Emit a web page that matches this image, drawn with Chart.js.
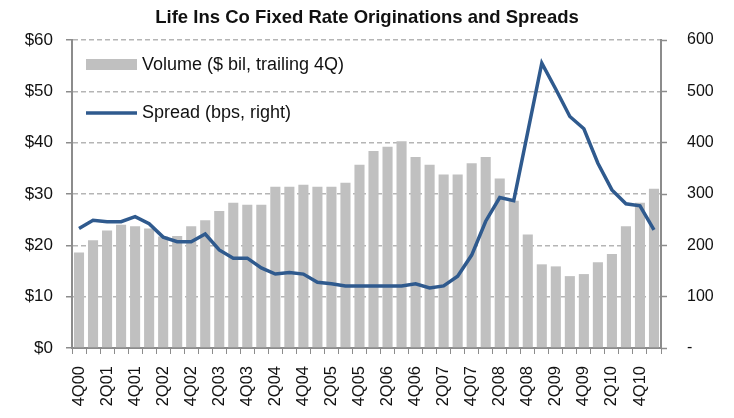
<!DOCTYPE html>
<html>
<head>
<meta charset="utf-8">
<script src="https://cdn.jsdelivr.net/npm/chart.js@4/dist/chart.umd.min.js"></script>
<style>
    html, body { margin: 0; padding: 0; background: #fff; }
    #grafico { display: block; }
</style>
</head>
<body>
<canvas id="grafico" width="734" height="418"></canvas>
<script>
// Datos
const trimestres = ['4Q00', '1Q01', '2Q01', '3Q01', '4Q01', '1Q02', '2Q02', '3Q02', '4Q02',
    '1Q03', '2Q03', '3Q03', '4Q03', '1Q04', '2Q04', '3Q04', '4Q04', '1Q05', '2Q05', '3Q05', '4Q05',
    '1Q06', '2Q06', '3Q06', '4Q06', '1Q07', '2Q07', '3Q07', '4Q07', '1Q08', '2Q08', '3Q08', '4Q08',
    '1Q09', '2Q09', '3Q09', '4Q09', '1Q10', '2Q10', '3Q10', '4Q10', '1Q11'];

const volumen = [18.6, 21.0, 22.9, 24.0, 23.7, 23.3, 21.7, 21.8, 23.7,
    24.9, 26.7, 28.3, 27.9, 27.9, 31.4, 31.4, 31.8, 31.4, 31.4, 32.2, 35.7,
    38.4, 39.2, 40.3, 37.2, 35.7, 33.8, 33.8, 36.0, 37.2, 33.0, 28.7, 22.1,
    16.3, 15.9, 14.0, 14.4, 16.7, 18.3, 23.7, 28.3, 31.0];

const spread = [233, 249, 246, 246, 256, 242, 216, 207, 207,
    222, 191, 175, 175, 156, 144, 147, 144, 128, 125, 121, 121,
    121, 121, 121, 125, 117, 121, 140, 181, 247, 293, 287, 421,
    555, 504, 451, 427, 360, 308, 281, 277, 230];

const etiquetaVolumen = 'Volume ($ bil, trailing 4Q)';
const etiquetaSpread = 'Spread (bps, right)';
const titulo = 'Life Ins Co Fixed Rate Originations and Spreads';

const fuente = "'Liberation Sans', Arial, sans-serif";
const colorEje = '#8c8c8c';

// Leyenda dentro del área del gráfico, arriba a la izquierda
const leyendaInterna = {
    id: 'leyendaInterna',
    afterDatasetsDraw(chart) {
        const ctx = chart.ctx;
        const barras = chart.data.datasets[0];
        const linea = chart.data.datasets[1];
        const x0 = chart.chartArea.left + 14;
        ctx.save();
        ctx.fillStyle = barras.backgroundColor;
        ctx.fillRect(x0, 59, 51, 11);
        ctx.strokeStyle = linea.borderColor;
        ctx.lineWidth = linea.borderWidth;
        ctx.beginPath();
        ctx.moveTo(x0, 113);
        ctx.lineTo(x0 + 51, 113);
        ctx.stroke();
        ctx.fillStyle = '#111';
        ctx.font = '18px ' + fuente;
        ctx.textBaseline = 'middle';
        ctx.fillText(barras.label, x0 + 56, 65);
        ctx.fillText(linea.label, x0 + 56, 113);
        ctx.restore();
    }
};

const ctx = document.getElementById('grafico').getContext('2d');
new Chart(ctx, {
    type: 'bar',
    data: {
        labels: trimestres,
        datasets: [{
            type: 'bar',
            label: etiquetaVolumen,
            data: volumen,
            backgroundColor: '#c0c0c0',
            barPercentage: 0.72,
            categoryPercentage: 1.0,
            yAxisID: 'y',
            order: 1
        }, {
            type: 'line',
            label: etiquetaSpread,
            data: spread,
            borderColor: '#2f5a8e',
            borderWidth: 3.5,
            pointRadius: 0,
            tension: 0,
            fill: false,
            yAxisID: 'y1',
            order: 0
        }]
    },
    options: {
        responsive: false,
        animation: false,
        layout: { padding: 0 },
        plugins: {
            legend: { display: false },
            tooltip: { enabled: false },
            title: {
                display: true,
                text: titulo,
                color: '#111',
                font: { family: fuente, size: 18.5, weight: 'bold', lineHeight: 1.2 },
                padding: { top: 7, bottom: 10.8 }
            }
        },
        scales: {
            x: {
                grid: { display: true, drawOnChartArea: false, drawTicks: true, tickLength: 6, color: colorEje, tickColor: colorEje, offset: true },
                border: { display: true, color: colorEje, width: 2 },
                ticks: {
                    autoSkip: false,
                    maxRotation: 90,
                    minRotation: 90,
                    padding: 12,
                    color: '#111',
                    font: { family: fuente, size: 16.5 },
                    callback: function (valor, i) {
                        return i % 2 === 0 ? this.getLabelForValue(valor) : '';
                    }
                },
                afterFit: (s) => { s.height = 70; }
            },
            y: {
                position: 'left',
                min: 0,
                max: 60,
                grid: { color: '#b5b5b5', lineWidth: 1.5, tickColor: colorEje, tickLength: 6, tickWidth: 1.5 },
                border: { display: true, color: colorEje, width: 2, dash: [5, 3] },
                ticks: {
                    stepSize: 10,
                    padding: 13,
                    color: '#111',
                    font: { family: fuente, size: 17 },
                    callback: (v) => '$' + v
                },
                afterFit: (s) => { s.width = 72; }
            },
            y1: {
                position: 'right',
                min: 0,
                max: 600,
                grid: { drawOnChartArea: false, tickColor: colorEje, tickLength: 6, tickWidth: 1.5 },
                border: { display: true, color: colorEje, width: 2 },
                ticks: {
                    stepSize: 100,
                    padding: 20,
                    color: '#111',
                    font: { family: fuente, size: 16 },
                    callback: (v) => v === 0 ? '-' : v
                },
                afterFit: (s) => { s.width = 73; }
            }
        }
    },
    plugins: [leyendaInterna]
});
</script>
</body>
</html>
